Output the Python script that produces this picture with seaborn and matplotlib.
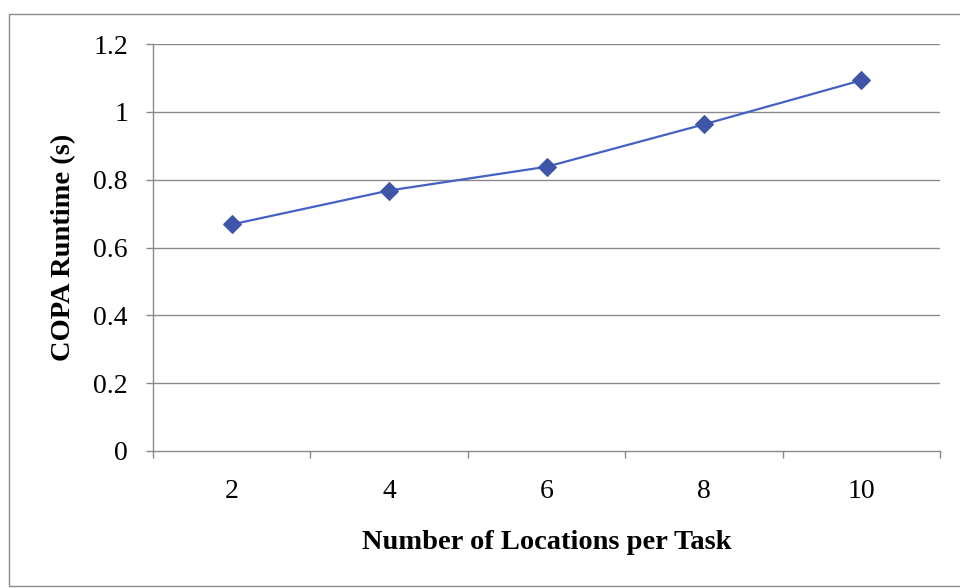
import matplotlib
matplotlib.use('Agg')
from matplotlib import pyplot as plt
from matplotlib.patches import Rectangle
import numpy as np
import pandas as pd
import seaborn as sns

# data
locations = ['2', '4', '6', '8', '10']
runtime = [0.668, 0.768, 0.838, 0.963, 1.093]
y_ticks = [0, 0.2, 0.4, 0.6, 0.8, 1, 1.2]
y_tick_labels = ['0', '0.2', '0.4', '0.6', '0.8', '1', '1.2']

df = pd.DataFrame({'locations': locations, 'runtime': runtime})

sns.set_style("white")
plt.rcParams['font.family'] = ['Liberation Serif', 'DejaVu Serif']
plt.rcParams['text.color'] = 'black'
plt.rcParams['axes.labelcolor'] = 'black'
plt.rcParams['xtick.color'] = 'black'
plt.rcParams['ytick.color'] = 'black'

fig = plt.figure(figsize=(9.6, 5.88), dpi=100)
ax = fig.add_axes([153 / 960, 1 - 451 / 588, (940 - 153) / 960, (451 - 44) / 588])

# outer chart frame
fig.patches.append(Rectangle((9 / 960, 2 / 588), 1.2, 572 / 588, transform=fig.transFigure,
                             fill=False, edgecolor='#8c8c8c', lw=1.0))

sns.lineplot(data=df, x='locations', y='runtime', ax=ax, color='#4461c4', lw=1.6,
             marker='D', markersize=9, markerfacecolor='#3e55a8', markeredgecolor='#3e55a8')

ax.set_ylim(0, 1.2)
ax.set_xlim(-0.5, len(locations) - 0.5)
ax.set_yticks(y_ticks)
ax.set_yticklabels(y_tick_labels, fontsize=20)
for y in y_ticks[1:]:
    ax.axhline(y, color='#8a8a8a', lw=1.0, zorder=0)

# category axis: tick marks between categories, labels at centres
ax.set_xticks(np.arange(-0.5, len(locations), 1.0))
ax.set_xticklabels([''] * (len(locations) + 1))
ax.set_xticks(np.arange(len(locations)), minor=True)
ax.set_xticklabels(locations, minor=True, fontsize=20)
ax.tick_params(axis='x', which='minor', length=0, pad=20)
ax.tick_params(axis='x', which='major', length=5, width=1.0, color='#8a8a8a', direction='out')
ax.tick_params(axis='y', length=5, width=1.0, color='#8a8a8a', direction='out', pad=13)
ax.xaxis.set_ticks_position('bottom')
ax.yaxis.set_ticks_position('left')

sns.despine(ax=ax, top=True, right=True)
for s in ['left', 'bottom']:
    ax.spines[s].set_color('#8a8a8a')
    ax.spines[s].set_linewidth(1.0)

ax.set_xlabel('Number of Locations per Task', fontsize=20.5, fontweight='bold', labelpad=19)
ax.set_ylabel('COPA Runtime (s)', fontsize=20.5, fontweight='bold', labelpad=12)

fig.savefig('out.png', dpi=100)
